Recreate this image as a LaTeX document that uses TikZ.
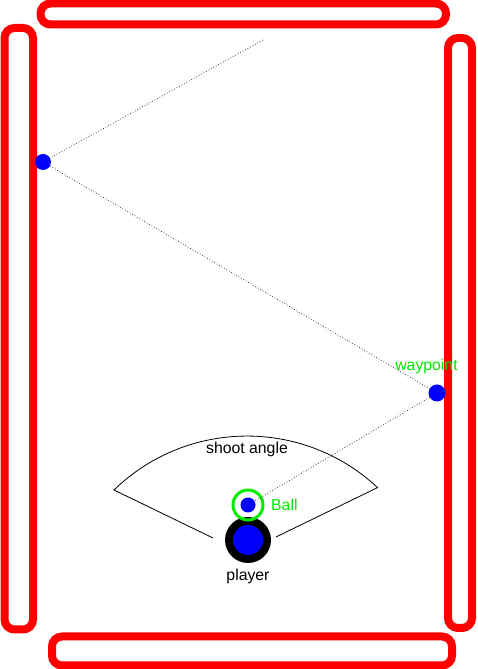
\documentclass[tikz,border=0pt]{standalone}
\usepackage{fontspec}
\setmainfont{Liberation Sans}
\definecolor{wallred}{RGB}{255,0,0}
\definecolor{dotblue}{RGB}{0,0,255}
\definecolor{lime}{RGB}{0,235,0}
\begin{document}
\begin{tikzpicture}[x=1pt,y=1pt,
  wall/.style={draw=wallred,line width=8pt,rounded corners=10pt},
  bluedot/.style={circle,fill=dotblue,inner sep=0pt,minimum size=16pt},
  path/.style={dotted,line width=0.8pt,draw=black!75},
  lbl/.style={font=\fontsize{15.8}{18}\selectfont,inner sep=0pt}]
\useasboundingbox (0,0) rectangle (477,669);
% walls
\draw[wall] (40.5,644.5) rectangle (446,665.5);
\draw[wall] (4.5,39.5) rectangle (33,641);
\draw[wall] (448,41) rectangle (472,631);
\draw[wall] (52,3.5) rectangle (452,32.5);
% shoot angle sector
\draw[line width=0.8pt] (213,131) -- (114,179) arc[start angle=134.15,end angle=46.9,radius=191] -- (276,132);
\node[lbl] (shoot) at (247,220) {shoot angle};
% player
\node[circle,fill=black,inner sep=0pt,minimum size=46pt] (player) at (248,129) {};
\node[circle,fill=dotblue,inner sep=0pt,minimum size=30pt] (playerin) at (248,129) {};
\node[lbl] (playerlbl) at (248,93) {player};
% ball
\node[bluedot,minimum size=15pt] (ball) at (248,164) {};
\node[circle,draw=lime,line width=3pt,inner sep=0pt,minimum size=30pt] (ballring) at (248,164) {};
\node[lbl,text=lime,anchor=west] (balllbl) at (271,164) {Ball};
% waypoints
\coordinate (start) at (263,629);
\node[bluedot] (bounce) at (43,507) {};
\node[bluedot,minimum size=17pt] (waypoint) at (437,276) {};
\node[lbl,text=lime] (waylbl) at (426.5,303) {waypoint};
% trajectory
\draw[path] (start) -- (bounce);
\draw[path] (bounce) -- (waypoint);
\draw[path] (waypoint) -- (ball);
\end{tikzpicture}
\end{document}
